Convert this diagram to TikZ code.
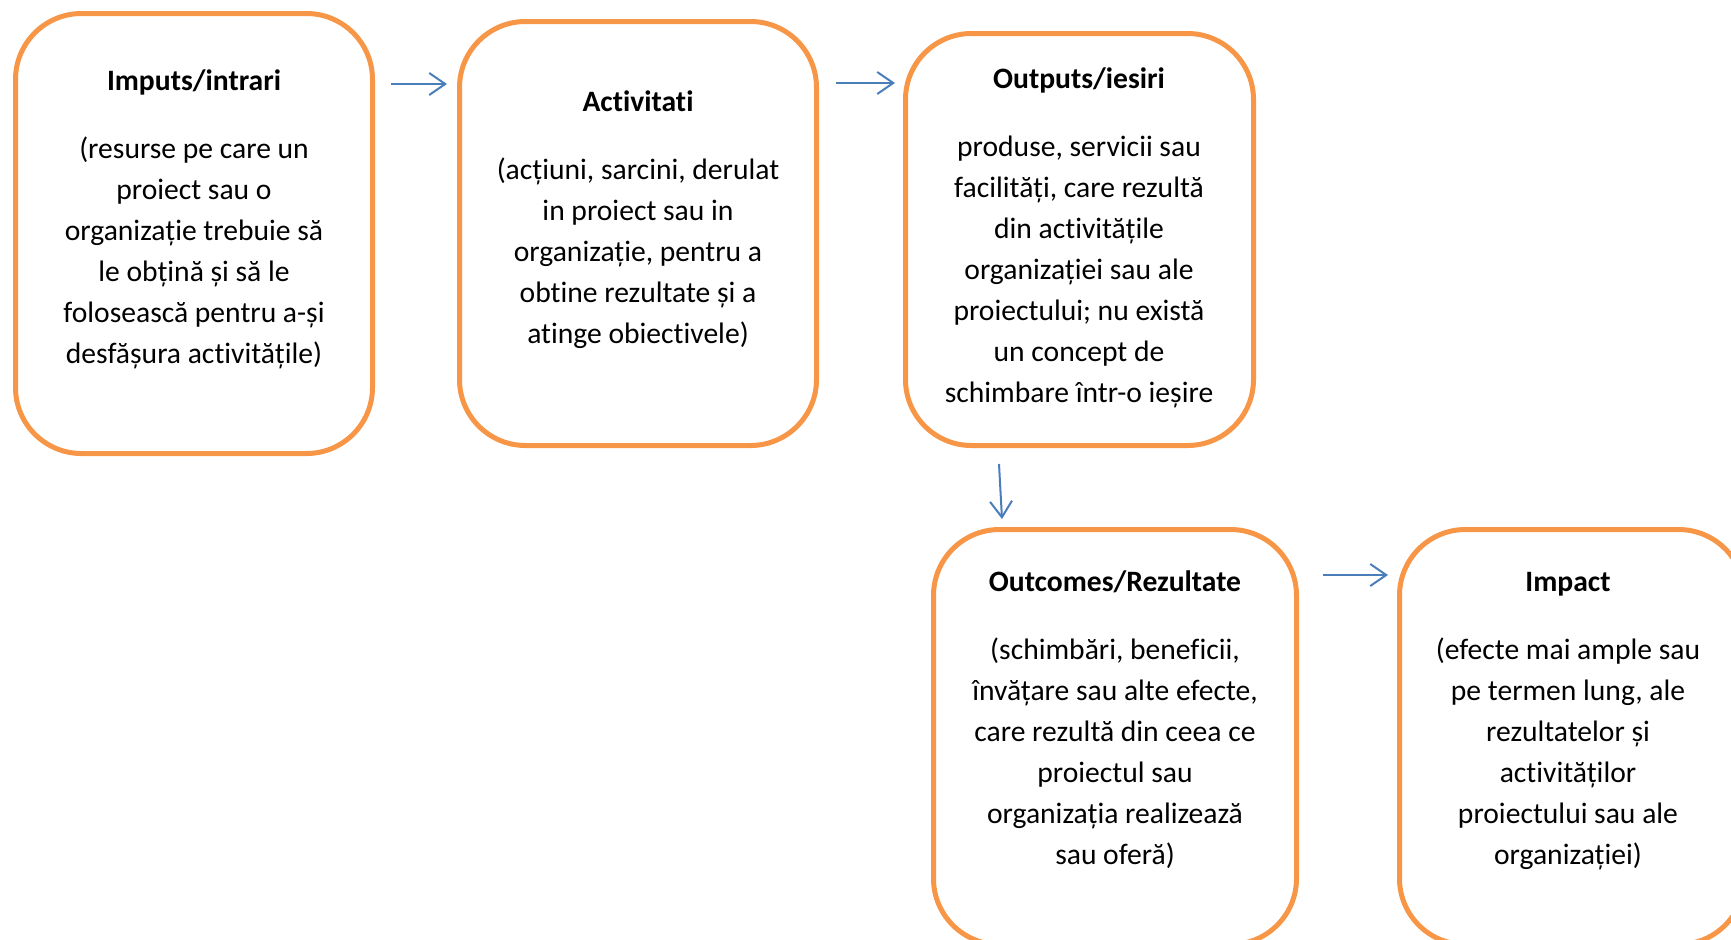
\documentclass[tikz,border=0pt]{standalone}
\usepackage{fontspec}
\setmainfont{Carlito}[Ligatures=NoCommon]
\usetikzlibrary{arrows.meta,calc}
\definecolor{stageorange}{HTML}{F79646}
\definecolor{flowblue}{HTML}{4A7EBB}

\begin{document}
\begin{tikzpicture}[
        x=0.5pt,y=-0.5pt,
        stage/.style={draw=stageorange,line width=2.5pt,rounded corners=33pt,outer sep=0pt,inner sep=0pt},
        note/.style={anchor=north,align=center,inner sep=0pt,font=\fontsize{14.8}{20.5}\selectfont},
        flow/.style={draw=flowblue,line width=1pt,-{Straight Barb[length=8pt,width=11pt]}},
        % flow/.style={draw=flowblue,line width=1pt,->},
        ]
    \useasboundingbox (0,0) rectangle (1731,939);
    \clip (0,0) rectangle (1731,939);

    % the five stages
    \node (inputs) [stage,minimum width=178.5pt,minimum height=220pt] at (194,233.5) {};
    \node (activ) [stage,minimum width=178.5pt,minimum height=212pt] at (638,233.5) {};
    \node (outputs) [stage,minimum width=174pt,minimum height=206pt] at (1079.5,239.5) {};
    \node (outcomes) [stage,minimum width=181.5pt,minimum height=207.5pt] at (1115,737) {};
    \node (impact) [stage,minimum width=172.5pt,minimum height=207.5pt] at (1572,737) {};

    \node (inputs-t) [note] at (194,61) {\strut\textbf{Imputs/intrari}\\[13.5pt]
        (resurse pe care un\\ proiect sau o\\ organizație trebuie să\\ le obțină și să le\\
        folosească pentru a-și\\ desfășura activitățile)};
    \node (activ-t) [note] at (638,82) {\strut\textbf{Activitati}\\[13.5pt]
        (acțiuni, sarcini, derulat\\ in proiect sau in\\ organizație, pentru a\\
        obtine rezultate și a\\ atinge obiectivele)};
    \node (outputs-t) [note] at (1079,59) {\strut\textbf{Outputs/iesiri}\\[13.5pt]
        produse, servicii sau\\ facilități, care rezultă\\ din activitățile\\
        organizației sau ale\\ proiectului; nu există\\ un concept de\\ schimbare într-o ieșire};
    \node (outcomes-t) [note] at (1115,562) {\strut\textbf{Outcomes/Rezultate}\\[13.5pt]
        (schimbări, beneficii,\\ învățare sau alte efecte,\\ care rezultă din ceea ce\\
        proiectul sau\\ organizația realizează\\ sau oferă)};
    \node (impact-t) [note] at (1568,562) {\strut\textbf{Impact}\\[13.5pt]
        (efecte mai ample sau\\ pe termen lung, ale\\ rezultatelor și\\ activităților\\
        proiectului sau ale\\ organizației)};

    % arrows between the stages
    \draw[flow] ($(inputs.north east)+(18.5,70.5)$) -- ($(activ.north west)+(-12.5,62.5)$);
    \draw[flow] ($(activ.north east)+(19.5,61.5)$) -- ($(outputs.north west)+(-10.5,49.5)$);
    \draw[flow] ($(outputs.south west)+(93.5,18.5)$) -- ($(outcomes.north west)+(68.5,-10.5)$);
    \draw[flow] ($(outcomes.north east)+(26.5,45.5)$) -- ($(impact.north west)+(-11.5,45.5)$);
\end{tikzpicture}
\end{document}
